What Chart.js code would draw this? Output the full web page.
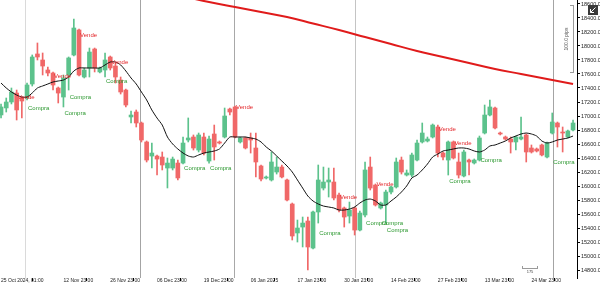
<!DOCTYPE html>
<html>
<head>
<meta charset="utf-8">
<script src="https://cdn.jsdelivr.net/npm/chart.js@4.4.1/dist/chart.umd.min.js"></script>
<style>
  html, body { margin: 0; padding: 0; background: #fff; }
  #wrap { width: 600px; height: 287px; position: relative; }
</style>
</head>
<body>
<div id="wrap"><canvas id="chart"></canvas></div>
<script>
// daily candles (index 0 = first candle on the left)
const opens = [
  17015, 17115, 17200, 17328, 17257, 17257, 17457, 17886, 17800, 17657,
  17614, 17400, 17271, 17586, 17871, 18229, 17557, 17686, 17957, 17629,
  17657, 17843, 17714, 17514, 17371, 16986, 17057, 16900, 16629, 16428,
  16428, 16414, 16257, 16257, 16328, 16328, 16657, 16700, 16514, 16700,
  16357, 16743, 16629, 16700, 17100, 17129, 16629, 16686, 16686, 16543,
  16286, 16114, 16086, 16200, 16271, 16086, 15743, 15329, 15414, 15500,
  15114, 15629, 15971, 16057, 16057, 15871, 15686, 15571, 15686, 15371,
  15586, 16271, 16014, 15686, 15729, 15914, 15986, 16371, 16157, 16157,
  16371, 16629, 16643, 16700, 16843, 16471, 16371, 16629, 16343, 16143,
  16371, 16329, 16371, 16757, 17014, 17114, 16757, 16700, 16671, 16629,
  16671, 16729, 16543, 16529, 16586, 16414, 16757, 16900, 16771, 16700, 16800
];
const highs = [
  17172, 17257, 17400, 17371, 17271, 17471, 17872, 18043, 17900, 17700,
  17629, 17414, 17586, 17843, 18386, 18243, 17686, 17971, 17971, 17700,
  17900, 17857, 17757, 17557, 17386, 17071, 17086, 16914, 16643, 16614,
  16443, 16486, 16400, 16414, 16371, 16700, 16972, 16729, 16757, 16757,
  16714, 16871, 16643, 17114, 17114, 17143, 16700, 16700, 16757, 16757,
  16300, 16143, 16486, 16414, 16300, 16100, 15757, 15514, 15557, 15557,
  15643, 16300, 16271, 16257, 16257, 15900, 15700, 15771, 15700, 15643,
  16343, 16414, 16029, 15771, 15943, 16000, 16400, 16414, 16229, 16471,
  16657, 16900, 16700, 16886, 16871, 16486, 16643, 16643, 16471, 16514,
  16386, 16386, 16714, 17157, 17229, 17129, 16771, 16714, 16700, 16714,
  16986, 16743, 16586, 16543, 16600, 16629, 17043, 16914, 16843, 16800, 16943
];
const lows = [
  16972, 17057, 17172, 16943, 16972, 17229, 17428, 17800, 17586, 17571,
  17371, 17186, 17129, 17371, 17857, 17571, 17543, 17557, 17629, 17614,
  17557, 17657, 17471, 17314, 17129, 16900, 16843, 16629, 16343, 16257,
  16158, 16229, 15972, 16229, 16086, 16314, 16629, 16514, 16486, 16443,
  16328, 16371, 16600, 16686, 17014, 16686, 16614, 16529, 16471, 16129,
  16071, 16100, 16071, 16171, 16114, 15786, 15229, 15200, 15129, 14800,
  15100, 15471, 15943, 15843, 15800, 15629, 15414, 15471, 15300, 15357,
  15557, 15943, 15714, 15671, 15471, 15886, 15971, 16171, 16143, 16129,
  16357, 16614, 16629, 16686, 16414, 16371, 16157, 16386, 16114, 16129,
  16157, 16314, 16357, 16743, 17000, 16814, 16729, 16657, 16471, 16514,
  16657, 16343, 16471, 16486, 16429, 16400, 16743, 16557, 16486, 16686, 16786
];
const closes = [
  17129, 17200, 17342, 17086, 17214, 17443, 17843, 17843, 17714, 17614,
  17443, 17328, 17543, 17829, 18257, 17586, 17657, 17914, 17686, 17686,
  17800, 17686, 17557, 17343, 17157, 17014, 16900, 16657, 16371, 16471,
  16385, 16300, 16328, 16385, 16115, 16614, 16686, 16543, 16729, 16471,
  16671, 16557, 16614, 17000, 17057, 16700, 16686, 16543, 16657, 16343,
  16100, 16129, 16343, 16271, 16129, 15800, 15286, 15400, 15471, 15129,
  15629, 16086, 16057, 16086, 15829, 15657, 15557, 15657, 15371, 15614,
  16229, 15971, 15729, 15757, 15914, 15986, 16343, 16200, 16186, 16443,
  16614, 16757, 16671, 16871, 16471, 16414, 16629, 16400, 16157, 16486,
  16343, 16371, 16686, 17014, 17129, 16829, 16743, 16671, 16629, 16700,
  16700, 16486, 16486, 16500, 16443, 16614, 16914, 16843, 16757, 16786, 16900
];

// thin black moving average, one value per candle
const ma = [
  17471, 17400, 17343, 17300, 17271, 17271, 17329, 17400, 17429, 17457,
  17486, 17500, 17514, 17557, 17643, 17686, 17686, 17686, 17686, 17686,
  17729, 17771, 17771, 17729, 17643, 17543, 17457, 17343, 17229, 17086,
  16971, 16871, 16700, 16600, 16529, 16471, 16429, 16414, 16443, 16471,
  16486, 16500, 16529, 16614, 16700, 16700, 16700, 16700, 16686, 16671,
  16629, 16557, 16500, 16429, 16357, 16286, 16200, 16086, 15971, 15857,
  15786, 15743, 15714, 15700, 15686, 15657, 15657, 15671, 15700, 15757,
  15800, 15814, 15786, 15729, 15729, 15786, 15843, 15914, 16000, 16114,
  16157, 16229, 16314, 16414, 16457, 16500, 16514, 16529, 16543, 16543,
  16529, 16500, 16486, 16514, 16571, 16586, 16614, 16643, 16686, 16714,
  16743, 16757, 16743, 16714, 16643, 16614, 16629, 16657, 16671, 16686, 16714
];

// thick red long average, read every 5 candles
const longMaIdx = [0, 5, 10, 15, 20, 25, 30, 35, 40, 45, 50, 55, 60, 65, 70, 75, 80, 85, 90, 95, 100, 105, 110];
const longMa = [19228, 19157, 19071, 19000, 18928, 18857, 18780, 18706, 18628, 18557, 18486, 18414,
                18321, 18228, 18128, 18028, 17928, 17843, 17757, 17671, 17600, 17528, 17457];

// signal labels
const sellIdx = [3, 10, 15, 21, 45, 65, 72, 84, 87];
const sellPrice = [17271, 17571, 18157, 17771, 17129, 15843, 16029, 16814, 16614];
const buyIdx = [5, 12, 13, 20, 35, 40, 61, 70, 73, 74, 86, 92, 106];
const buyPrice = [17114, 17043, 17271, 17500, 16257, 16257, 15329, 15471, 15471, 15371, 16071, 16371, 16343];

// axes
const priceTicks = [18600, 18400, 18200, 18000, 17800, 17600, 17400, 17200, 17000, 16800,
                    16600, 16400, 16200, 16000, 15800, 15600, 15400, 15200, 15000, 14800];
const xTickIdx = [0, 12, 21, 30, 39, 48, 57, 66, 75, 84, 93, 102];
const xTickLabels = ['25 Oct 2024, 01:00', '12 Nov 23:00', '26 Nov 23:00', '06 Dec 23:00', '19 Dec 23:00',
                     '06 Jan 2025', '17 Jan 23:00', '30 Jan 23:00', '14 Feb 23:00', '27 Feb 23:00',
                     '13 Mar 23:00', '24 Mar 23:00'];
const separatorIdx = [4.6, 26.7, 44.8, 68.1, 106.2];

const UP = '#5cc28c';
const DOWN = '#f06868';
const FONT = '"Liberation Sans", Arial, sans-serif';
const separatorColors = ['#dadada', '#a4a4a4', '#a8a8a8', '#c4c4c4', '#a4a4a4'];

const candleColors = opens.map((o, i) => closes[i] >= o ? UP : DOWN);
const bodies = opens.map((o, i) => ({ x: i, y: [o, closes[i]] }));
const wicks = lows.map((l, i) => ({ x: i, y: [l, highs[i]] }));

const overlay = {
  id: 'overlay',
  beforeDatasetsDraw(chart) {
    const { ctx, chartArea: a, scales: { x } } = chart;
    ctx.save();
    ctx.lineWidth = 1;
    separatorIdx.forEach((idx, k) => {
      const px = Math.round(x.getPixelForValue(idx)) + 0.5;
      ctx.strokeStyle = separatorColors[k];
      ctx.beginPath();
      ctx.moveTo(px, a.top);
      ctx.lineTo(px, a.bottom);
      ctx.stroke();
    });
    ctx.restore();
  },
  afterDatasetsDraw(chart) {
    const { ctx, scales: { x, y } } = chart;
    ctx.save();
    ctx.font = '6px ' + FONT;
    ctx.textAlign = 'left';
    ctx.textBaseline = 'middle';
    ctx.fillStyle = '#e3262a';
    sellIdx.forEach((idx, k) => {
      ctx.fillText('Vende', x.getPixelForValue(idx) + 1, y.getPixelForValue(sellPrice[k]));
    });
    ctx.fillStyle = '#2b982f';
    buyIdx.forEach((idx, k) => {
      ctx.fillText('Compra', x.getPixelForValue(idx) + 1, y.getPixelForValue(buyPrice[k]));
    });

    // pips ruler, top right
    ctx.strokeStyle = '#9a9a9a';
    ctx.lineWidth = 1;
    ctx.beginPath();
    ctx.moveTo(573.5, 5); ctx.lineTo(573.5, 73);
    ctx.moveTo(570, 5.5); ctx.lineTo(574, 5.5);
    ctx.moveTo(570, 72.5); ctx.lineTo(574, 72.5);
    ctx.stroke();
    ctx.save();
    ctx.translate(567, 39);
    ctx.rotate(-Math.PI / 2);
    ctx.font = '5px ' + FONT;
    ctx.fillStyle = '#555';
    ctx.textAlign = 'center';
    ctx.fillText('100.0 pips', 0, 0);
    ctx.restore();

    // small bar ruler near the bottom
    ctx.beginPath();
    ctx.moveTo(522, 268.5); ctx.lineTo(538, 268.5);
    ctx.moveTo(522.5, 266); ctx.lineTo(522.5, 269);
    ctx.moveTo(537.5, 266); ctx.lineTo(537.5, 269);
    ctx.stroke();
    ctx.font = '4px ' + FONT;
    ctx.fillStyle = '#444';
    ctx.textAlign = 'center';
    ctx.fillText('175', 530, 272);

    // corner icon
    ctx.fillStyle = '#3a3a3a';
    ctx.fillRect(588, 5, 10, 10);
    ctx.strokeStyle = '#fff';
    ctx.beginPath();
    ctx.moveTo(595.5, 7.5); ctx.lineTo(590.5, 12.5);
    ctx.moveTo(590.5, 9); ctx.lineTo(590.5, 12.5); ctx.lineTo(594, 12.5);
    ctx.stroke();
    ctx.restore();
  }
};

new Chart(document.getElementById('chart'), {
  type: 'bar',
  data: {
    datasets: [
      {
        type: 'line',
        data: longMaIdx.map((i, k) => ({ x: i, y: longMa[k] })),
        borderColor: '#e01b1b',
        borderWidth: 2,
        pointRadius: 0,
        tension: 0.4
      },
      {
        type: 'line',
        data: ma.map((v, i) => ({ x: i, y: v })),
        borderColor: '#111',
        borderWidth: 1,
        pointRadius: 0,
        tension: 0.25
      },
      {
        data: bodies,
        backgroundColor: candleColors,
        barThickness: 4,
        minBarLength: 1,
        grouped: false
      },
      {
        data: wicks,
        backgroundColor: candleColors,
        barThickness: 1,
        grouped: false
      }
    ]
  },
  options: {
    responsive: true,
    maintainAspectRatio: false,
    animation: false,
    layout: { padding: 0 },
    plugins: {
      legend: { display: false },
      tooltip: { enabled: false }
    },
    scales: {
      x: {
        type: 'linear',
        min: -0.2,
        max: 110.76,
        offset: false,
        grid: { drawOnChartArea: false, tickLength: 3, color: '#000' },
        border: { display: false },
        ticks: {
          autoSkip: false,
          maxRotation: 0,
          align: 'start',
          padding: -3,
          color: '#222',
          font: { size: 5, family: FONT },
          callback: (v, i) => xTickLabels[i]
        },
        afterBuildTicks: s => { s.ticks = xTickIdx.map(v => ({ value: v })); },
        afterFit: s => { s.height = 9; s.paddingLeft = 0; s.paddingRight = 0; }
      },
      y: {
        position: 'right',
        min: 14686,
        max: 18657,
        grid: { drawOnChartArea: false, tickLength: 3, color: '#000' },
        border: { display: true, color: '#000', width: 1 },
        ticks: {
          padding: 1,
          color: '#222',
          font: { size: 5.5, family: FONT },
          callback: v => v.toFixed(1)
        },
        afterBuildTicks: s => { s.ticks = priceTicks.map(v => ({ value: v })); },
        afterFit: s => { s.width = 23; s.paddingTop = 0; s.paddingBottom = 0; }
      }
    }
  },
  plugins: [overlay]
});
</script>
</body>
</html>
